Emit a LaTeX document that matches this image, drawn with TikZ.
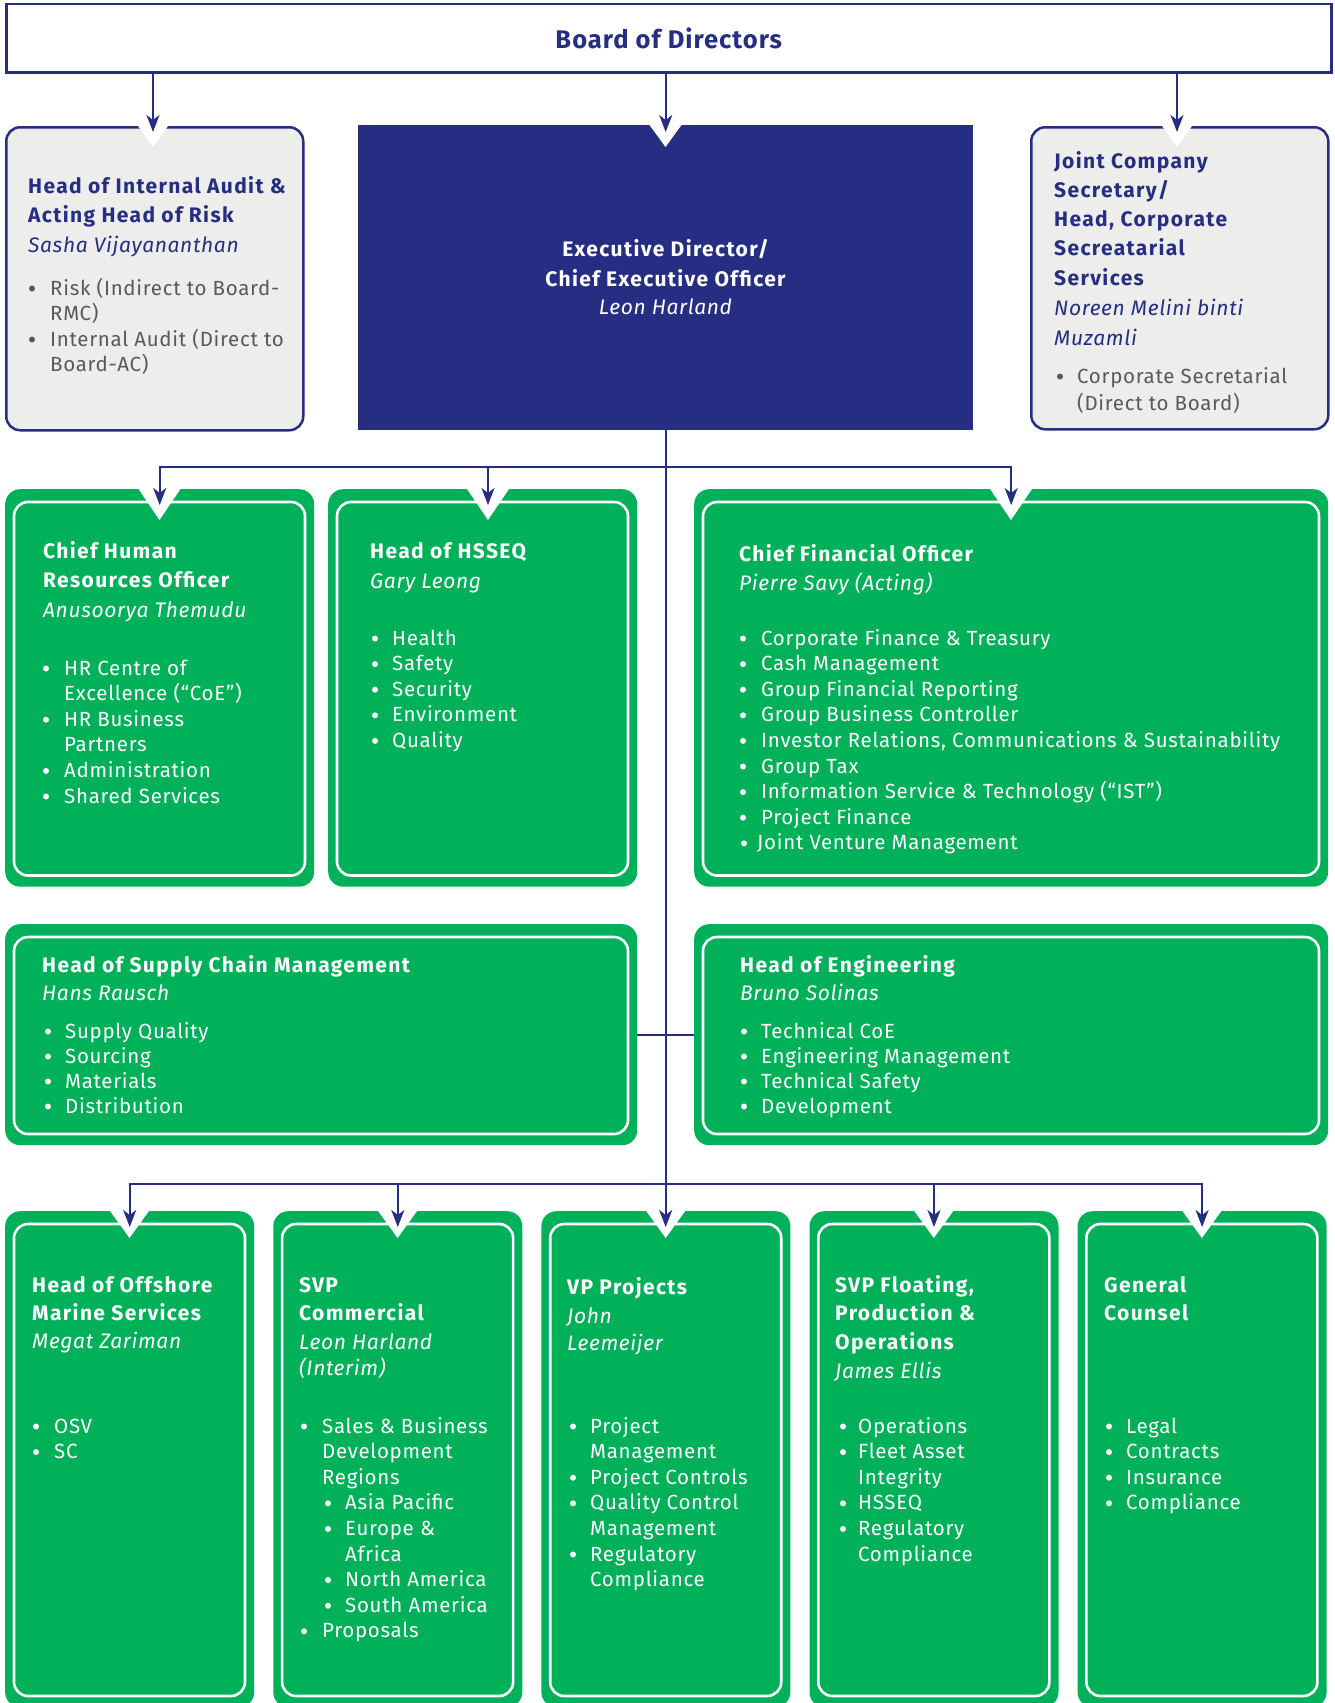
\documentclass[tikz,border=0pt]{standalone}
\usepackage{fontspec}
\setmainfont{Fira Sans}
\usetikzlibrary{arrows.meta,calc}

\definecolor{navy}{RGB}{37,46,131}
\definecolor{leaf}{RGB}{0,177,89}
\definecolor{paper}{RGB}{237,237,236}
\definecolor{slate}{RGB}{88,89,91}

\tikzset{
  hd/.style={anchor=base west, inner sep=0pt, font=\bfseries\fontsize{21}{21}\selectfont\addfontfeature{LetterSpace=6.5}},
  nm/.style={anchor=base west, inner sep=0pt, font=\itshape\fontsize{21}{21}\selectfont\addfontfeature{LetterSpace=3}},
  tx/.style={anchor=base west, inner sep=0pt, font=\fontsize{20.5}{20.5}\selectfont\addfontfeature{LetterSpace=3.4}},
  panel/.style={draw=none, fill=leaf, rounded corners=15pt, inner sep=0pt, anchor=north west},
  greybox/.style={draw=navy, line width=2.5pt, fill=paper, rounded corners=14pt, inner sep=0pt, anchor=north west},
  conn/.style={draw=navy, line width=2.2pt},
  tip/.style={-{Stealth[length=17pt,width=13pt,inset=5pt]}},
  tips/.style={{Stealth[length=17pt,width=13pt,inset=5pt]}-{Stealth[length=17pt,width=13pt,inset=5pt]}},
}

% a column of text lines: style, x, first baseline, line step, lines
\newcommand\lines[5]{%
  \foreach \t [count=\i from 0] in {#5}{\node[#1] at ({#2},{#3+\i*#4}) {\t};}}
% a bullet list: colour, dot x, text x, first baseline, line step, flag/text pairs
\newcommand\items[6]{%
  \foreach \f/\t [count=\i from 0] in {#6}{%
    \node[tx,text=#1] at ({#3},{#4+\i*#5}) {\t};
    \ifnum\f=1 \fill[#1] ({#2},{#4+\i*#5-6.5}) circle[radius=3pt];\fi}}
% green panel with its inner white frame: name, x, y, width, height
\newcommand\panel[5]{%
  \node[panel, minimum width=#4pt, minimum height=#5pt] (#1) at (#2,#3) {};
  \draw[white, line width=2.6pt, rounded corners=14pt] ({#2+9},{#3+13}) rectangle ({#2+#4-9},{#3+#5-11});}
% white V cut into the top edge of a box: x, top, half width, depth
\newcommand\notch[4]{%
  \fill[white] ({#1-#3*(1+3/#4)},{#2-3}) -- ({#1+#3*(1+3/#4)},{#2-3}) -- ({#1},{#2+#4}) -- cycle;}

\begin{document}
\begin{tikzpicture}[x=1pt,y=-1pt]
\useasboundingbox (0,0) rectangle (1335,1703);
\clip (0,0) rectangle (1335,1703);

% ---- boxes ----
\node[draw=navy, line width=2.5pt, minimum width=1325pt, minimum height=68.5pt,
      anchor=north west, inner sep=0pt, text=navy,
      font=\bfseries\fontsize{25.5}{25.5}\selectfont\addfontfeature{LetterSpace=4}] (board) at (5,2.5) {Board of Directors};

\node[greybox, minimum width=297pt, minimum height=303pt] (audit) at (5,126) {};
\node[fill=navy, minimum width=615pt, minimum height=305pt, anchor=north west, inner sep=0pt] (ceo) at (358,125) {};
\node[greybox, minimum width=297pt, minimum height=302pt] (sec) at (1030,126) {};

\panel{chro}{5}{489}{309}{397.5}
\panel{hsseq}{328}{489}{309}{397.5}
\panel{cfo}{694}{489}{634}{397.5}

\panel{scm}{5}{924}{632}{221}
\panel{eng}{694}{924}{634}{221}

\panel{oms}{5}{1211}{249}{496}
\panel{comm}{273.1}{1211}{249}{496}
\panel{proj}{541.2}{1211}{249}{496}
\panel{fpo}{809.3}{1211}{249}{496}
\panel{gc}{1077.4}{1211}{249}{496}

% ---- arrow entry points ----
\coordinate (auditin) at (153,132);
\coordinate (ceoin) at ($(ceo.north)+(0,7)$);
\coordinate (secin) at (1177,132);
\coordinate (chroin) at ($(chro.north)+(0,16)$);
\coordinate (hsseqin) at (488,505);
\coordinate (cfoin) at ($(cfo.north)+(0,16)$);
\coordinate (omsin) at ($(oms.north)+(0,16)$);
\coordinate (commin) at ($(comm.north)+(0,16)$);
\coordinate (projin) at ($(proj.north)+(0,16)$);
\coordinate (fpoin) at ($(fpo.north)+(0,16)$);
\coordinate (gcin) at ($(gc.north)+(0,16)$);
\coordinate (bus2) at (666,467);
\coordinate (bus4) at (666,1184);

% ---- notches ----
\notch{153}{126}{15}{21}
\notch{665.5}{125}{16}{22}
\notch{1177}{126}{15}{21}
\notch{159.5}{489}{21}{31}
\notch{488}{489}{21}{31}
\notch{1011}{489}{21}{31}
\foreach \xx in {129.5,397.6,665.7,933.8,1201.9}{\notch{\xx}{1211}{19.5}{27}}

% ---- connectors ----
\draw[conn,tip] (board.south -| auditin) -- (auditin);
\draw[conn,tip] (board.south -| ceoin) -- (ceoin);
\draw[conn,tip] (board.south -| secin) -- (secin);
\draw[conn,tip] (ceo.south) -- (ceo.south |- projin);
\draw[conn,tips] (chroin) -- (chroin |- bus2) -- (cfoin |- bus2) -- (cfoin);
\draw[conn,tip] (hsseqin |- bus2) -- (hsseqin);
\draw[conn] (scm.east) -- (eng.west);
\draw[conn,tips] (omsin) -- (omsin |- bus4) -- (gcin |- bus4) -- (gcin);
\draw[conn,tip] (commin |- bus4) -- (commin);
\draw[conn,tip] (fpoin |- bus4) -- (fpoin);

% ---- internal audit ----
\lines{hd,text=navy}{28}{193}{29}{Head of Internal Audit \&,Acting Head of Risk}
\lines{nm,text=navy}{28}{252}{29}{Sasha Vijayananthan}
\items{slate}{32}{50}{295}{25.5}{1/Risk (Indirect to Board-,0/RMC),1/Internal Audit (Direct to,0/Board-AC)}

% ---- chief executive ----
\lines{hd,anchor=base,text=white}{665.5}{256}{30}{Executive Director/,Chief Executive Officer}
\lines{nm,anchor=base,text=white}{665.5}{314}{29}{Leon Harland}

% ---- company secretary ----
\lines{hd,text=navy}{1054}{168}{29.3}{Joint Company,Secretary/,{Head, Corporate},Secreatarial,Services}
\lines{nm,text=navy}{1054}{315}{30}{Noreen Melini binti,Muzamli}
\items{slate}{1060}{1077}{383}{27}{1/Corporate Secretarial,0/(Direct to Board)}

% ---- human resources ----
\lines{hd,text=white}{43}{558}{29}{Chief Human,Resources Officer}
\lines{nm,text=white}{43}{617}{29}{Anusoorya Themudu}
\items{white}{46}{64}{675}{25.6}{1/HR Centre of,0/Excellence (“CoE”),1/HR Business,0/Partners,1/Administration,1/Shared Services}

% ---- HSSEQ ----
\lines{hd,text=white}{370}{558}{29}{Head of HSSEQ}
\lines{nm,text=white}{370}{588}{29}{Gary Leong}
\items{white}{375}{392}{645}{25.6}{1/Health,1/Safety,1/Security,1/Environment,1/Quality}

% ---- finance ----
\lines{hd,text=white}{739}{561}{29}{Chief Financial Officer}
\lines{nm,text=white}{739}{590}{29}{Pierre Savy (Acting)}
\items{white}{743}{761}{645}{25.6}{1/Corporate Finance \& Treasury,1/Cash Management,1/Group Financial Reporting,1/Group Business Controller,1/{Investor Relations, Communications \& Sustainability},1/Group Tax,1/Information Service \& Technology (“IST”),1/Project Finance}
\items{white}{744}{757}{849.8}{25.6}{1/Joint Venture Management}

% ---- supply chain ----
\lines{hd,text=white}{42}{972}{29}{Head of Supply Chain Management}
\lines{nm,text=white}{42}{1000}{29}{Hans Rausch}
\items{white}{48}{65}{1038}{25}{1/Supply Quality,1/Sourcing,1/Materials,1/Distribution}

% ---- engineering ----
\lines{hd,text=white}{740}{972}{29}{Head of Engineering}
\lines{nm,text=white}{740}{1000}{29}{Bruno Solinas}
\items{white}{744}{761}{1038}{25}{1/Technical CoE,1/Engineering Management,1/Technical Safety,1/Development}

% ---- offshore marine ----
\lines{hd,text=white}{32}{1292}{28.5}{Head of Offshore,Marine Services}
\lines{nm,text=white}{32}{1348}{29}{Megat Zariman}
\items{white}{36}{54}{1433}{25.6}{1/OSV,1/SC}

% ---- commercial ----
\lines{hd,text=white}{299}{1292}{28.5}{SVP,Commercial}
\lines{nm,text=white}{299}{1349}{26}{Leon Harland,(Interim)}
\items{white}{304}{322}{1433}{25.6}{1/Sales \& Business,0/Development,0/Regions}
\items{white}{328}{345}{1509.8}{25.6}{1/Asia Pacific,1/Europe \&,0/Africa,1/North America,1/South America}
\items{white}{304}{322}{1637.8}{25.6}{1/Proposals}

% ---- projects ----
\lines{hd,text=white}{567}{1294}{29}{VP Projects}
\lines{nm,text=white}{567}{1323}{27}{John,Leemeijer}
\items{white}{573}{590}{1433}{25.6}{1/Project,0/Management,1/Project Controls,1/Quality Control,0/Management,1/Regulatory,0/Compliance}

% ---- floating production ----
\lines{hd,text=white}{835}{1292}{28.5}{{SVP Floating,},Production \&,Operations}
\lines{nm,text=white}{835}{1378}{29}{James Ellis}
\items{white}{843}{858}{1433}{25.6}{1/Operations,1/Fleet Asset,0/Integrity,1/HSSEQ,1/Regulatory,0/Compliance}

% ---- general counsel ----
\lines{hd,text=white}{1104}{1292}{28.5}{General,Counsel}
\items{white}{1109}{1126}{1433}{25.6}{1/Legal,1/Contracts,1/Insurance,1/Compliance}

\end{tikzpicture}
\end{document}
